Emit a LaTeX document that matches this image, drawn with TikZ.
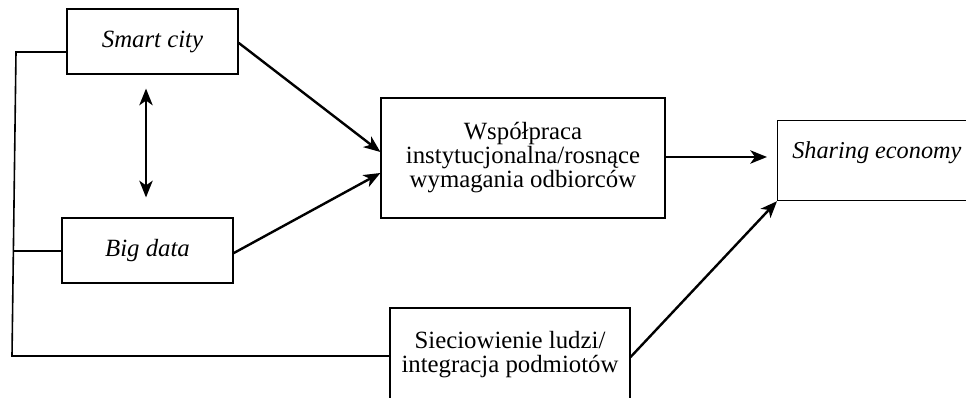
\documentclass[tikz,border=0pt]{standalone}
\usepackage{fontspec}
\setmainfont{Liberation Serif}
\usetikzlibrary{arrows.meta,calc}
\begin{document}
\begin{tikzpicture}[x=0.75pt,y=-0.75pt,
  txt/.style={font=\fontsize{18.6}{18}\selectfont},
  box/.style={draw, line width=0.9pt, inner sep=0pt, align=center, txt},
  arr/.style={line width=1.8pt, -{Stealth[length=12.5pt,width=10pt,inset=3.5pt]}},
  dblarr/.style={line width=1.8pt, {Stealth[length=12.5pt,width=10pt,inset=3.5pt]}-{Stealth[length=12.5pt,width=10pt,inset=3.5pt]}},
  frameline/.style={line width=1.2pt}]
\useasboundingbox (0,0) rectangle (966,398);
\clip (0,0) rectangle (966,398);

\node[box, minimum width=128.25pt, minimum height=48.75pt] (smart) at (152.5,41.5) {\textit{Smart city}};
\node[box, minimum width=128.25pt, minimum height=48.75pt] (bigdata) at (147.5,250.5) {\textit{Big data}};
\node[box, minimum width=213pt, minimum height=90pt] (middle) at (523,158) {Współpraca\\instytucjonalna/rosnące\\wymagania odbiorców};
\node[box, minimum width=180pt, minimum height=70.5pt] (sieci) at (510,355) {Sieciowienie ludzi/\\integracja podmiotów};
\node[box, minimum width=250pt, minimum height=60pt, anchor=north west] (sharing) at (777,120) {};
\node[anchor=base west, inner sep=0pt, font=\fontsize{18.2}{18}\selectfont] (sharetext) at (792,159) {\textit{Sharing economy}};

% left frame
\coordinate (ftop) at (16,52);
\coordinate (fbot) at (12,356);
\coordinate (fmid) at ($(ftop)!0.655!(fbot)$);
\draw[frameline] ([yshift=-7.9pt]smart.west) -- (ftop) -- (fbot) -- (fbot -| sieci.west);
\draw[frameline] (bigdata.west |- fmid) -- (fmid);

% double arrow
\coordinate (dx) at (146,0);
\draw[dblarr, shorten <=10.5pt, shorten >=15pt] (smart.south -| dx) -- (bigdata.north -| dx);

% arrows into middle
\draw[arr] ([yshift=-1pt]smart.east) -- ([yshift=4.5pt]middle.west);
\draw[arr] ([yshift=-2pt]bigdata.east) -- ([yshift=-11.25pt]middle.west);
\draw[arr, shorten >=7.5pt] ([yshift=0.75pt]middle.east) -- ([yshift=0.75pt]middle.east -| sharing.west);
\draw[arr] ([yshift=-1.5pt]sieci.east) -- (sharing.south west);
\end{tikzpicture}
\end{document}
